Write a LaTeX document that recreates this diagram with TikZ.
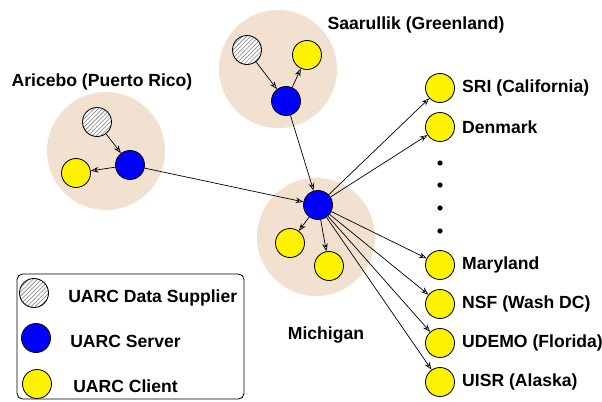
\documentclass[tikz,border=0pt]{standalone}
\usepackage{fontspec}
\setmainfont{Liberation Sans}
\usetikzlibrary{arrows.meta,positioning,patterns}
\definecolor{peach}{RGB}{242,224,208}
\tikzset{
  cluster/.style={circle, fill=peach, minimum size=2.95cm, inner sep=0pt},
  supnode/.style={circle, draw, line width=0.6pt, minimum size=0.725cm, inner sep=0pt,
    preaction={fill=white}, pattern=north east lines, pattern color=gray},
  srvnode/.style={circle, draw, line width=0.6pt, fill=blue, minimum size=0.725cm, inner sep=0pt},
  clinode/.style={circle, draw, line width=0.6pt, fill=yellow, minimum size=0.725cm, inner sep=0pt},
  lbl/.style={font=\fontsize{12.5}{15}\selectfont\bfseries, inner sep=0pt},
  dotnode/.style={circle, fill, inner sep=0pt, minimum size=0.13cm},
  link/.style={line width=0.5pt, -{Stealth[open, length=5.5pt, width=4pt]}},
}

\begin{document}
\begin{tikzpicture}[x=0.025cm, y=-0.025cm]
  \useasboundingbox (0,0) rectangle (602,401);

  %% sites (background discs)
  \node[cluster] (arireg) at (106,151) {};
  \node[cluster] (saareg) at (278,69) {};
  \node[cluster] (micreg) at (316,237) {};

  % site names
  \node[lbl] at (102,82) {Aricebo (Puerto Rico)};
  \node[lbl] at (416,25) {Saarullik (Greenland)};
  \node[lbl] at (326,335) {Michigan};

  % Aricebo
  \node[supnode] (arisup) at (97,122) {};
  \node[srvnode] (arisrv) at (130,165) {};
  \node[clinode] (aricli) at (76,173) {};

  % Saarullik
  \node[supnode] (saasup) at (247,50) {};
  \node[srvnode] (saasrv) at (286,101) {};
  \node[clinode] (saacli) at (307,55) {};

  % Michigan
  \node[srvnode] (micsrv) at (318,205) {};
  \node[clinode] (miccla) at (290,243) {};
  \node[clinode] (micclb) at (329,266) {};

  % remote clients
  \node[clinode] (sri) at (440,88) {};
  \node[clinode] (den) at (440,127) {};
  \node[clinode] (mary) at (440,265) {};
  \node[clinode] (nsf) at (440,304) {};
  \node[clinode] (udemo) at (440,343) {};
  \node[clinode] (uisr) at (440,382) {};

  \node[lbl, right=5pt of sri] {SRI (California)};
  \node[lbl, right=5pt of den] {Denmark};
  \node[lbl, right=5pt of mary] {Maryland};
  \node[lbl, right=5pt of nsf] {NSF (Wash DC)};
  \node[lbl, right=5pt of udemo] {UDEMO (Florida)};
  \node[lbl, right=5pt of uisr] {UISR (Alaska)};

  % elided clients
  \foreach \y/\n in {163/a,185/b,208/c,231/d}
    \node[dotnode] (dot\n) at (440,\y) {};

  % local links
  \draw[link] (arisup) -- (arisrv);
  \draw[link] (arisrv) -- (aricli);
  \draw[link] (saasup) -- (saasrv);
  \draw[link] (saasrv) -- (saacli);
  \draw[link] (micsrv) -- (miccla);
  \draw[link] (micsrv) -- (micclb);

  % wide area links
  \draw[link] (arisrv) -- (micsrv);
  \draw[link] (saasrv) -- (micsrv);
  \foreach \c in {sri,den,mary,nsf,udemo,uisr}
    \draw[link] (micsrv) -- (\c);

  %% legend
  \draw[line width=0.6pt, rounded corners=4pt] (17,274) rectangle (244,399);
  \node[supnode] (legsup) at (34,293) {};
  \node[srvnode] (legsrv) at (36,338) {};
  \node[clinode] (legcli) at (37,384) {};
  \node[lbl, anchor=base west] at (68,302) {UARC Data Supplier};
  \node[lbl, anchor=base west] at (70,347) {UARC Server};
  \node[lbl, anchor=base west] at (73,392) {UARC Client};
\end{tikzpicture}
\end{document}
